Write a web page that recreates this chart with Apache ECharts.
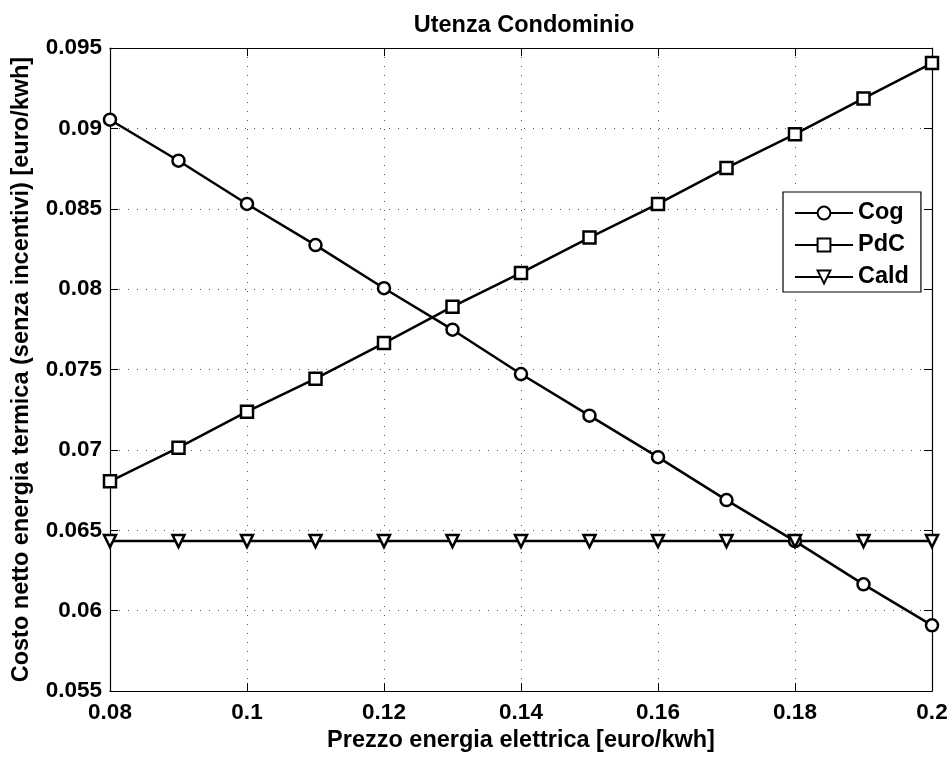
<!DOCTYPE html>
<html>
<head>
<meta charset="utf-8">
<script src="https://cdn.jsdelivr.net/npm/echarts@6/dist/echarts.min.js"></script>
<style>
  html, body { margin: 0; padding: 0; background: #fff; }
  #chart { width: 952px; height: 758px; }
</style>
</head>
<body>
<div id="chart"></div>
<script>
// prezzo energia elettrica [euro/kwh]
const prezzo = [0.08, 0.09, 0.10, 0.11, 0.12, 0.13, 0.14, 0.15, 0.16, 0.17, 0.18, 0.19, 0.20]
const cog = [0.09054, 0.08799, 0.08530, 0.08274, 0.08006, 0.07748, 0.07472, 0.07213, 0.06955, 0.06688, 0.06433, 0.06164, 0.05909]
const pdc = [0.06805, 0.07014, 0.07238, 0.07443, 0.07665, 0.07891, 0.08101, 0.08321, 0.08530, 0.08754, 0.08964, 0.09186, 0.09406]
const cald = [0.06433, 0.06433, 0.06433, 0.06433, 0.06433, 0.06433, 0.06433, 0.06433, 0.06433, 0.06433, 0.06433, 0.06433, 0.06433]

const font = 'Liberation Sans, Arial, Helvetica, sans-serif'
const fmt = (v) => String(+v.toFixed(4))
const bigText = { fontFamily: font, fontSize: 23.5, fontWeight: 'bold', color: '#000' }
const tickText = { fontFamily: font, fontSize: 22.5, fontWeight: 'bold', color: '#000' }

const chart = echarts.init(document.getElementById('chart'))

function makeSeries(name, values, symbol, size, rotate) {
  return {
    name: name,
    type: 'line',
    data: prezzo.map((x, i) => [x, values[i]]),
    symbol: symbol,
    symbolSize: size,
    symbolRotate: rotate,
    showAllSymbol: true,
    clip: false,
    lineStyle: { color: '#000', width: 2.5 },
    itemStyle: { color: '#fff', borderColor: '#000', borderWidth: 2.5 },
    emphasis: { disabled: true },
    animation: false
  }
}

const xBase = {
  type: 'value',
  min: 0.08,
  max: 0.2,
  interval: 0.02,
  axisLine: { show: true, lineStyle: { color: '#000', width: 1.2 } },
  axisTick: { show: true, inside: true, length: 8, lineStyle: { color: '#000' } },
  splitLine: { show: false }
}
const yBase = {
  type: 'value',
  min: 0.055,
  max: 0.095,
  interval: 0.005,
  axisLine: { show: true, lineStyle: { color: '#000', width: 1.2 } },
  axisTick: { show: true, inside: true, length: 8, lineStyle: { color: '#000' } },
  splitLine: { show: false }
}

chart.setOption({
  backgroundColor: '#fff',
  animation: false,
  title: {
    text: 'Utenza Condominio',
    left: 519,
    textAlign: 'center',
    top: 9,
    textStyle: bigText
  },
  legend: {
    data: ['Cog', 'PdC', 'Cald'],
    orient: 'vertical',
    left: 783,
    top: 192,
    itemWidth: 58,
    itemHeight: 16,
    itemGap: 8,
    padding: [9, 12, 3, 11],
    borderColor: '#000',
    borderWidth: 1.2,
    backgroundColor: '#fff',
    selectedMode: false,
    textStyle: bigText
  },
  grid: { left: 110, right: 20, top: 48, bottom: 61, containLabel: false },
  xAxis: [
    Object.assign({}, xBase, {
      position: 'bottom',
      name: 'Prezzo energia elettrica [euro/kwh]',
      nameLocation: 'middle',
      nameGap: 37,
      nameTextStyle: bigText,
      axisLabel: Object.assign({ margin: 10, formatter: fmt }, tickText),
      splitLine: { show: true, lineStyle: { color: '#555', width: 1, type: [1, 8] } }
    }),
    Object.assign({}, xBase, { position: 'top', axisLabel: { show: false } })
  ],
  yAxis: [
    Object.assign({}, yBase, {
      position: 'left',
      name: 'Costo netto energia termica (senza incentivi) [euro/kwh]',
      nameLocation: 'middle',
      nameGap: 76,
      nameTextStyle: bigText,
      axisLabel: Object.assign({ margin: 8, formatter: fmt }, tickText),
      splitLine: { show: true, lineStyle: { color: '#555', width: 1, type: [1, 8] } }
    }),
    Object.assign({}, yBase, { position: 'right', axisLabel: { show: false } })
  ],
  series: [
    makeSeries('Cog', cog, 'circle', 12, 0),
    makeSeries('PdC', pdc, 'rect', 12, 0),
    makeSeries('Cald', cald, 'triangle', 12, 180)
  ]
})
</script>
</body>
</html>
